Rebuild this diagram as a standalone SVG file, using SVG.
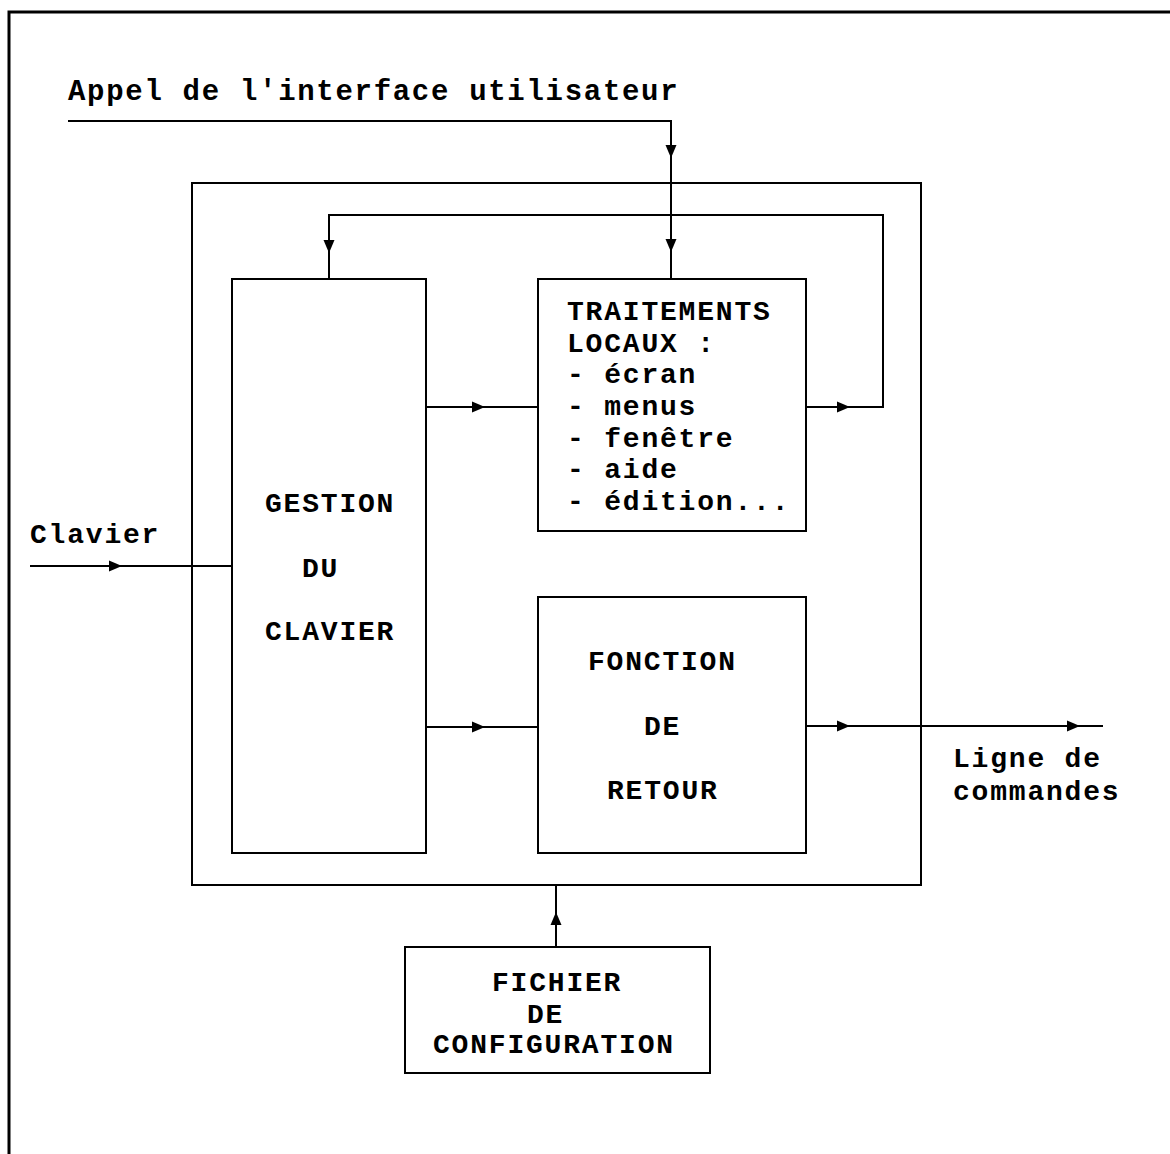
<svg xmlns="http://www.w3.org/2000/svg" xmlns:xlink="http://www.w3.org/1999/xlink" width="1170" height="1154" viewBox="0 0 1170 1154">
  <style>
    .box { fill: none; stroke: #000; stroke-width: 2; }
    .wire { fill: none; stroke: #000; stroke-width: 2; }
    .frame { fill: none; stroke: #000; stroke-width: 3; }
    text { font-family: "Liberation Mono", "Courier New", monospace; font-weight: bold; font-size: 28px; letter-spacing: 1.8px; fill: #000; }
    .title { font-size: 29px; letter-spacing: 1.7px; }
  </style>
  <defs>
    <!-- filled arrowhead, tip at origin, pointing along +x -->
    <path id="ah" d="M0,0 L-13,-5.5 L-13,5.5 Z" fill="#000"/>
  </defs>
  <rect width="1170" height="1154" fill="#fff"/>

  <!-- page frame -->
  <path class="frame" d="M9,1154 V12 H1170"/>

  <text class="title" x="68" y="100">Appel de l'interface utilisateur</text>
  <text x="30" y="543">Clavier</text>
  <text x="953" y="767">Ligne de</text>
  <text x="953" y="800">commandes</text>

  <g id="interface-box">
    <rect class="box" x="192" y="183" width="729" height="702"/>
  </g>

  <g id="gestion-clavier">
    <rect class="box" x="232" y="279" width="194" height="574"/>
    <text x="265" y="512">GESTION</text>
    <text x="302" y="577">DU</text>
    <text x="265" y="640">CLAVIER</text>
  </g>

  <g id="traitements-locaux">
    <rect class="box" x="538" y="279" width="268" height="252"/>
    <text x="567" y="320">TRAITEMENTS</text>
    <text x="567" y="352">LOCAUX :</text>
    <text x="567" y="383">- écran</text>
    <text x="567" y="415">- menus</text>
    <text x="567" y="447">- fenêtre</text>
    <text x="567" y="478">- aide</text>
    <text x="567" y="510">- édition...</text>
  </g>

  <g id="fonction-retour">
    <rect class="box" x="538" y="597" width="268" height="256"/>
    <text x="588" y="670">FONCTION</text>
    <text x="644" y="735">DE</text>
    <text x="607" y="799">RETOUR</text>
  </g>

  <g id="fichier-configuration">
    <rect class="box" x="405" y="947" width="305" height="126"/>
    <text x="492" y="991">FICHIER</text>
    <text x="527" y="1023">DE</text>
    <text x="433" y="1053">CONFIGURATION</text>
  </g>

  <g id="connectors">
    <!-- user interface call -->
    <path class="wire" d="M68,121 H671 V279"/>
    <use xlink:href="#ah" transform="translate(671,158) rotate(90)"/>
    <use xlink:href="#ah" transform="translate(671,252) rotate(90)"/>
    <!-- feedback loop from local processing back to keyboard handling -->
    <path class="wire" d="M806,407 H883 V215 H329 V279"/>
    <use xlink:href="#ah" transform="translate(850,407)"/>
    <use xlink:href="#ah" transform="translate(329,253) rotate(90)"/>
    <!-- keyboard input -->
    <path class="wire" d="M30,566 H232"/>
    <use xlink:href="#ah" transform="translate(122,566)"/>
    <!-- keyboard handling to processing blocks -->
    <path class="wire" d="M426,407 H538"/>
    <use xlink:href="#ah" transform="translate(485,407)"/>
    <path class="wire" d="M426,727 H538"/>
    <use xlink:href="#ah" transform="translate(485,727)"/>
    <!-- command line output -->
    <path class="wire" d="M806,726 H1103"/>
    <use xlink:href="#ah" transform="translate(850,726)"/>
    <use xlink:href="#ah" transform="translate(1080,726)"/>
    <!-- configuration file -->
    <path class="wire" d="M556,947 V885"/>
    <use xlink:href="#ah" transform="translate(556,912) rotate(-90)"/>
  </g>
</svg>
